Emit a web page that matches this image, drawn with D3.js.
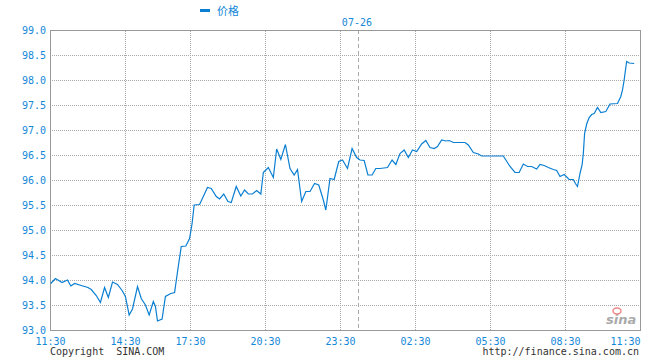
<!DOCTYPE html>
<html>
<head>
<meta charset="utf-8">
<script src="https://cdn.jsdelivr.net/npm/d3@7"></script>
<style>
  body { margin: 0; background: #fff; }
  text { font-family: "DejaVu Sans Mono", monospace; font-size: 10px; }
</style>
</head>
<body>
<div class="chart"></div>
<script>
// minutes from 11:30 (trading clock) and price
const times = [2, 13, 29, 42, 50, 59, 75, 91, 99, 111, 121, 131, 140, 150, 162, 173, 181, 190, 198, 210,
  219, 229, 238, 248, 253, 258, 269, 277, 290, 299, 307, 315, 326, 335, 341, 346, 359, 378, 387, 399,
  407, 417, 427, 435, 447, 458, 467, 476, 486, 496, 506, 512, 524, 536, 544, 554, 565, 576, 586, 594,
  604, 614, 624, 635, 645, 656, 662, 672, 682, 693, 702, 714, 725, 736, 744, 754, 763, 773, 782, 792,
  810, 821, 830, 840, 850, 860, 870, 880, 892, 902, 912, 922, 930, 940, 950, 958, 968, 996, 1004, 1016,
  1028, 1036, 1088, 1094, 1104, 1116, 1126, 1136, 1146, 1156, 1168, 1176, 1186, 1196, 1208, 1216, 1224, 1234, 1246, 1256,
  1261, 1266, 1272, 1277, 1280, 1283, 1288, 1294, 1300, 1306, 1314, 1322, 1334, 1344, 1362, 1370, 1374, 1378, 1380, 1384,
  1390, 1402]
const prices = [93.93, 94.03, 93.95, 94.00, 93.88, 93.93, 93.89, 93.85, 93.81, 93.69, 93.55, 93.85, 93.65, 93.96, 93.91, 93.79, 93.67, 93.30, 93.42, 93.87,
  93.63, 93.50, 93.30, 93.57, 93.47, 93.18, 93.22, 93.67, 93.73, 93.75, 94.22, 94.67, 94.68, 94.83, 95.13, 95.50, 95.51, 95.85, 95.83, 95.67,
  95.62, 95.72, 95.57, 95.55, 95.87, 95.68, 95.80, 95.72, 95.72, 95.79, 95.72, 96.15, 96.25, 96.05, 96.62, 96.41, 96.71, 96.23, 96.10, 96.21,
  95.57, 95.77, 95.77, 95.93, 95.90, 95.60, 95.40, 96.03, 96.01, 96.37, 96.40, 96.23, 96.63, 96.45, 96.40, 96.39, 96.10, 96.10, 96.23, 96.23,
  96.25, 96.40, 96.31, 96.53, 96.60, 96.45, 96.60, 96.57, 96.72, 96.79, 96.65, 96.63, 96.67, 96.80, 96.78, 96.79, 96.75, 96.75, 96.70, 96.55,
  96.52, 96.48, 96.48, 96.40, 96.27, 96.15, 96.15, 96.32, 96.27, 96.27, 96.22, 96.31, 96.29, 96.25, 96.21, 96.19, 96.07, 96.11, 96.01, 96.01,
  95.93, 95.87, 96.13, 96.30, 96.53, 96.93, 97.12, 97.25, 97.31, 97.33, 97.45, 97.35, 97.37, 97.52, 97.53, 97.67, 97.80, 98.00, 98.13, 98.37,
  98.34, 98.33]

const tickTimes = [0, 180, 336, 516, 696, 876, 1056, 1236, 1416]
const tickLabels = ["11:30", "14:30", "17:30", "20:30", "23:30", "02:30", "05:30", "08:30", "11:30"]
const yTicks = [93.0, 93.5, 94.0, 94.5, 95.0, 95.5, 96.0, 96.5, 97.0, 97.5, 98.0, 98.5, 99.0]
const dayBreak = 739
const dayLabel = "07-26"
const seriesName = "价格"

const margin = {top: 30, right: 20, bottom: 30, left: 50}
const width = 660 - margin.left - margin.right
const height = 360 - margin.top - margin.bottom
const blue = "#0a7fd2"
const textBlue = "#1488d8"

const x = d3.scaleLinear().domain([0, 1416]).range([0, width])
const y = d3.scaleLinear().domain([93, 99]).range([height, 0])

const svg = d3.select(".chart").append("svg")
    .attr("width", 660).attr("height", 360)
const g = svg.append("g")
    .attr("transform", "translate(" + margin.left + "," + margin.top + ")")

// grid
g.append("g")
    .attr("class", "grid")
    .call(d3.axisLeft(y).tickValues(yTicks.slice(1, -1)).tickSize(-width).tickFormat(""))
g.append("g")
    .attr("class", "grid")
    .attr("transform", "translate(0," + height + ")")
    .call(d3.axisBottom(x).tickValues(tickTimes.slice(1, -1)).tickSize(-height).tickFormat(""))
g.selectAll(".grid .domain").remove()
g.selectAll(".grid line")
    .attr("stroke", "#aaa")
    .attr("stroke-dasharray", "1,1")
    .attr("shape-rendering", "crispEdges")

// day separator
g.append("line")
    .attr("x1", Math.round(x(dayBreak)) + 0.5).attr("x2", Math.round(x(dayBreak)) + 0.5)
    .attr("y1", 0).attr("y2", height)
    .attr("stroke", "#aaa")
    .attr("stroke-dasharray", "4,3")

g.append("text")
    .attr("x", x(dayBreak) - 1)
    .attr("y", -4)
    .attr("text-anchor", "middle")
    .attr("fill", textBlue)
    .text(dayLabel)

// frame
g.append("rect")
    .attr("x", 0.5).attr("y", 0.5)
    .attr("width", width).attr("height", height)
    .attr("fill", "none")
    .attr("stroke", "#999")
    .attr("shape-rendering", "crispEdges")

// price line
const line = d3.line()
    .x(function(d, i) { return x(times[i]) })
    .y(function(d) { return y(d) })
g.append("path")
    .datum(prices)
    .attr("fill", "none")
    .attr("stroke", blue)
    .attr("stroke-width", 1.2)
    .attr("d", line)

// axes labels
const yAxis = g.append("g")
    .call(d3.axisLeft(y).tickValues(yTicks).tickSize(0).tickPadding(4).tickFormat(d3.format(".1f")))
yAxis.select(".domain").remove()
yAxis.selectAll("text").attr("fill", textBlue).style("font-size", "10px").style("font-family", "DejaVu Sans Mono")

const xAxis = g.append("g")
    .attr("transform", "translate(0," + height + ")")
    .call(d3.axisBottom(x).tickValues(tickTimes).tickSize(0).tickPadding(8)
      .tickFormat(function(d, i) { return tickLabels[i] }))
xAxis.select(".domain").remove()
xAxis.selectAll("text").attr("fill", textBlue).style("font-size", "10px").style("font-family", "DejaVu Sans Mono")
xAxis.selectAll(".tick:last-of-type text").attr("text-anchor", "end")

// legend
svg.append("rect")
    .attr("x", 200).attr("y", 9)
    .attr("width", 10).attr("height", 3)
    .attr("fill", blue)
svg.append("text")
    .attr("x", 217).attr("y", 15)
    .attr("fill", textBlue)
    .style("font-family", "Noto Sans CJK SC")
    .style("font-size", "11px")
    .text(seriesName)

// footer
svg.append("text")
    .attr("x", 50).attr("y", 355)
    .attr("fill", "#333")
    .attr("xml:space", "preserve")
    .style("white-space", "pre")
    .text("Copyright  SINA.COM")
svg.append("text")
    .attr("x", 639).attr("y", 355)
    .attr("text-anchor", "end")
    .attr("fill", "#333")
    .text("http://finance.sina.com.cn")

// sina mark
svg.append("text")
    .attr("x", 606).attr("y", 324)
    .attr("fill", "#aaa")
    .style("font-family", "DejaVu Sans")
    .style("font-style", "italic")
    .style("font-weight", "bold")
    .style("font-size", "13px")
    .text("sina")
svg.append("ellipse")
    .attr("cx", 617).attr("cy", 311)
    .attr("rx", 4).attr("ry", 3)
    .attr("fill", "none")
    .attr("stroke", "#e88")
    .attr("stroke-width", 1.5)
</script>
</body>
</html>
